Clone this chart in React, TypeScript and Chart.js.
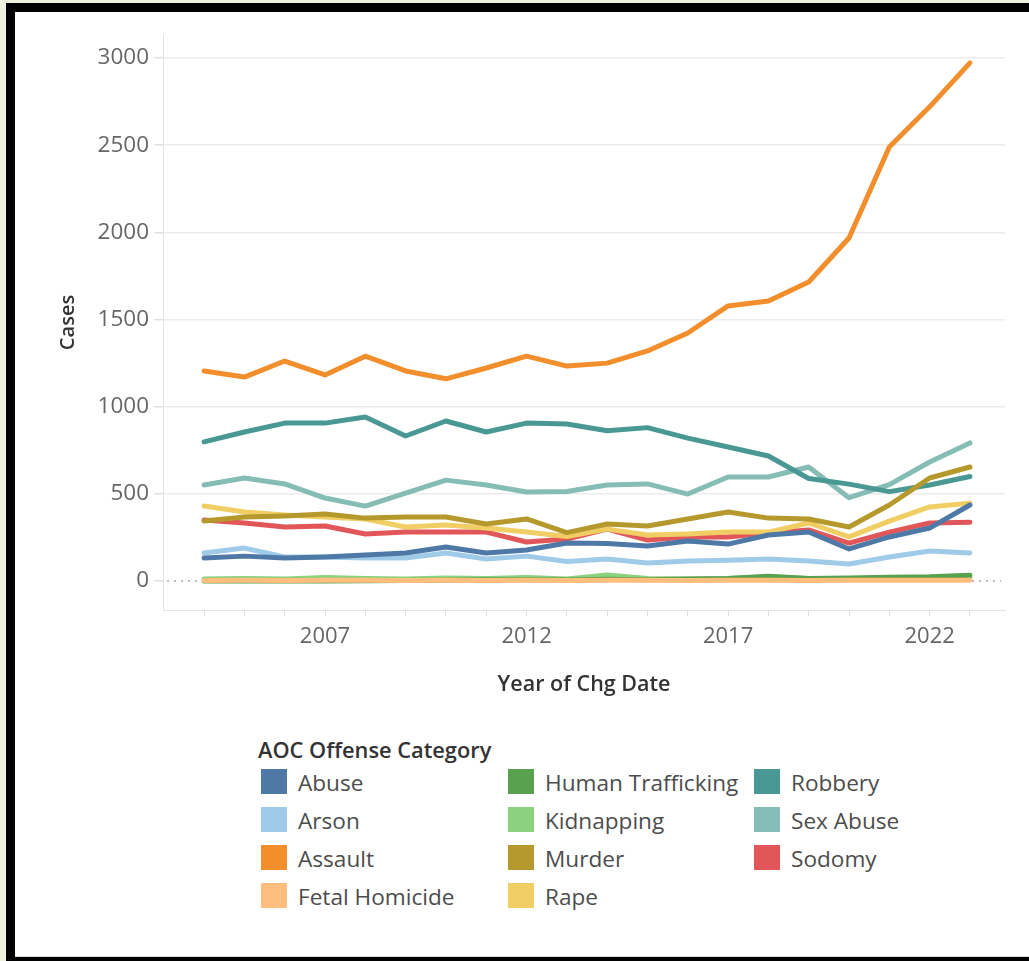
import React, { useEffect, useRef } from "react";
import { Chart, registerables } from "chart.js";

Chart.register(...registerables);

const years = [2004, 2005, 2006, 2007, 2008, 2009, 2010, 2011, 2012, 2013, 2014, 2015, 2016, 2017, 2018, 2019, 2020, 2021, 2022, 2023];
const xLabelYears = [2007, 2012, 2017, 2022];
const yTickValues = [0, 500, 1000, 1500, 2000, 2500, 3000];

const categories = ["Abuse", "Arson", "Assault", "Fetal Homicide", "Human Trafficking", "Kidnapping", "Murder", "Rape", "Robbery", "Sex Abuse", "Sodomy"];
const colors = ["#4e79a7", "#a0cbe8", "#f28e2b", "#ffbe7d", "#59a14f", "#8cd17d", "#b6992d", "#f1ce63", "#499894", "#86bcb6", "#e15759"];

const abuse = [132, 143, 132, 138, 149, 161, 195, 161, 178, 218, 215, 201, 230, 212, 264, 281, 184, 253, 304, 436];
const arson = [161, 189, 138, 138, 132, 132, 161, 126, 143, 112, 126, 103, 115, 120, 126, 115, 98, 138, 172, 161];
const assault = [1205, 1170, 1262, 1182, 1290, 1205, 1160, 1222, 1290, 1233, 1250, 1320, 1423, 1578, 1606, 1715, 1968, 2490, 2720, 2972];
const fetalHomicide = [3, 4, 3, 5, 4, 3, 4, 3, 4, 3, 5, 4, 3, 5, 4, 3, 4, 5, 4, 5];
const humanTrafficking = [0, 0, 0, 0, 2, 3, 5, 8, 8, 6, 10, 8, 12, 15, 28, 15, 18, 22, 25, 34];
const kidnapping = [12, 15, 12, 20, 15, 12, 18, 14, 20, 12, 35, 15, 12, 15, 25, 15, 12, 15, 18, 20];
const murder = [344, 367, 373, 384, 361, 367, 367, 327, 356, 278, 327, 316, 356, 396, 361, 356, 310, 436, 591, 654];
const rape = [430, 396, 379, 367, 356, 310, 321, 304, 281, 256, 298, 264, 270, 281, 281, 333, 253, 344, 425, 447];
const robbery = [798, 855, 906, 906, 941, 832, 918, 855, 906, 901, 862, 880, 820, 769, 717, 588, 556, 513, 551, 600];
const sexAbuse = [551, 591, 557, 476, 430, 505, 579, 551, 511, 514, 551, 557, 499, 597, 597, 654, 478, 553, 683, 792];
const sodomy = [350, 333, 310, 316, 270, 281, 281, 281, 224, 241, 298, 235, 253, 253, 275, 293, 218, 281, 333, 338];

const seriesValues = [abuse, arson, assault, fetalHomicide, humanTrafficking, kidnapping, murder, rape, robbery, sexAbuse, sodomy];

const FONT = "'Open Sans', 'Noto Sans', sans-serif";

const zeroLinePlugin = {
  id: "zeroLine",
  beforeDatasetsDraw(chart: any) {
    const { ctx, chartArea, scales } = chart;
    const y = scales.y.getPixelForValue(0);
    ctx.save();
    ctx.strokeStyle = "#a8a8a8";
    ctx.lineWidth = 1.5;
    ctx.setLineDash([2, 5]);
    ctx.beginPath();
    ctx.moveTo(chartArea.left + 4, y);
    ctx.lineTo(chartArea.right - 4, y);
    ctx.stroke();
    ctx.restore();
  },
};

export default function App() {
  const canvasRef = useRef<HTMLCanvasElement>(null);

  useEffect(() => {
    if (!canvasRef.current) return;
    const chart = new Chart(canvasRef.current, {
      type: "line",
      data: {
        datasets: categories.map((name, i) => ({
          label: name,
          data: years.map((yr, j) => ({ x: yr, y: seriesValues[i][j] })),
          borderColor: colors[i],
          backgroundColor: colors[i],
          borderWidth: 5,
          pointRadius: 0,
          tension: 0,
          borderCapStyle: "round",
          borderJoinStyle: "round",
        })),
      },
      plugins: [zeroLinePlugin],
      options: {
        animation: false,
        responsive: false,
        maintainAspectRatio: false,
        layout: { padding: { top: 23, right: 24, left: 0, bottom: 0 } },
        plugins: {
          legend: { display: false },
          tooltip: { enabled: false },
        },
        scales: {
          x: {
            type: "linear",
            min: 2002.98,
            max: 2023.87,
            afterBuildTicks: (axis: any) => {
              axis.ticks = years.map((v) => ({ value: v }));
            },
            afterFit: (axis: any) => {
              axis.height = 102;
            },
            ticks: {
              autoSkip: false,
              maxRotation: 0,
              padding: 8,
              color: "#666666",
              font: { family: FONT, size: 22 },
              callback: (v: any) => (xLabelYears.includes(Number(v)) ? String(v) : ""),
            },
            grid: {
              drawOnChartArea: false,
              drawTicks: true,
              tickLength: 6,
              color: "#dddddd",
            },
            border: { display: true, color: "#e4e4e4", width: 1 },
            title: {
              display: true,
              text: "Year of Chg Date",
              color: "#333333",
              font: { family: FONT, size: 21.5, weight: "600" },
              padding: { top: 0, bottom: 14 },
            },
          },
          y: {
            type: "linear",
            min: -166,
            max: 3132,
            afterBuildTicks: (axis: any) => {
              axis.ticks = yTickValues.map((v) => ({ value: v }));
            },
            afterFit: (axis: any) => {
              axis.width = 148;
            },
            ticks: {
              padding: 5,
              color: "#666666",
              font: { family: FONT, size: 22.5 },
              callback: (v: any) => String(v),
            },
            grid: {
              drawTicks: true,
              tickLength: 9,
              color: (ctx: any) => (ctx.tick && ctx.tick.value === 0 ? "rgba(0,0,0,0)" : "#ececec"),
              tickColor: "#e0e0e0",
              lineWidth: 1.5,
            },
            border: { display: true, color: "#e4e4e4", width: 1 },
            title: {
              display: true,
              text: "Cases",
              color: "#333333",
              font: { family: FONT, size: 20, weight: "600" },
              padding: { top: 41, bottom: 0 },
            },
          },
        },
      },
    });
    return () => chart.destroy();
  }, []);

  const columns = [
    [0, 1, 2, 3],
    [4, 5, 6, 7],
    [8, 9, 10],
  ];
  const colLeft = [261, 508, 754];

  return (
    <div style={{ position: "absolute", left: 0, top: 0, width: 1029, height: 961, background: "#edf1de", overflow: "hidden" }}>
      <div style={{ position: "absolute", left: 6, top: 3, width: 1023, height: 958, background: "#000" }} />
      <div style={{ position: "absolute", left: 15, top: 12, width: 1014, height: 944, background: "#fff", borderBottom: "1px solid #d8d8d8" }} />
      <canvas ref={canvasRef} width={1014} height={700} style={{ position: "absolute", left: 15, top: 12, width: 1014, height: 700 }} />
      <div
        style={{
          position: "absolute",
          left: 258,
          top: 735,
          fontFamily: FONT,
          fontSize: 21.8,
          fontWeight: 600,
          color: "#333",
          lineHeight: "30px",
          whiteSpace: "nowrap",
        }}
      >
        AOC Offense Category
      </div>
      {columns.map((col, ci) =>
        col.map((idx, ri) => (
          <div
            key={idx}
            style={{
              position: "absolute",
              left: colLeft[ci],
              top: 769 + ri * 38,
              height: 25,
              display: "flex",
              alignItems: "center",
              whiteSpace: "nowrap",
            }}
          >
            <div style={{ width: 26, height: 25, background: colors[idx] }} />
            <span style={{ marginLeft: 11, fontFamily: FONT, fontSize: 22.6, color: "#4d4d4d", lineHeight: "25px", position: "relative", top: 1 }}>
              {categories[idx]}
            </span>
          </div>
        ))
      )}
    </div>
  );
}
